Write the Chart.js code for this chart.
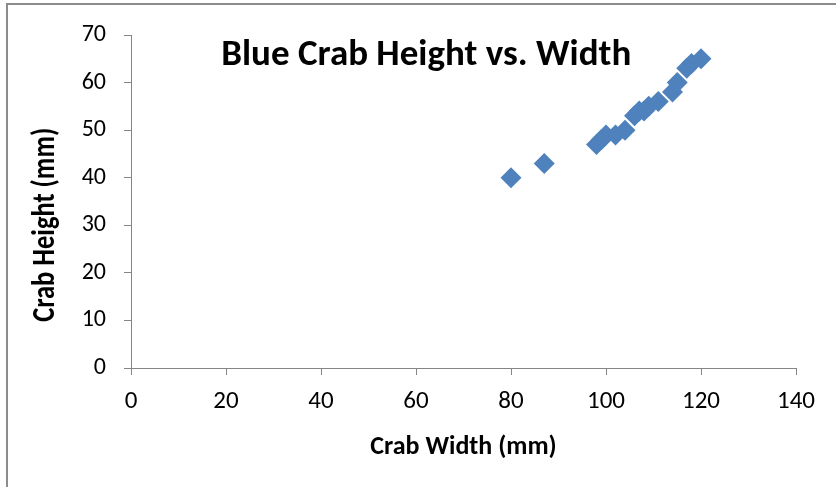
<!DOCTYPE html>
<html>
<head>
<meta charset="utf-8">
<script src="https://cdn.jsdelivr.net/npm/chart.js@4"></script>
<style>
  html, body { margin: 0; padding: 0; background: #fff; overflow: hidden; }
  #wrap { width: 836px; height: 487px; }
</style>
</head>
<body>
<div id="wrap"><canvas id="c" width="836" height="487"></canvas></div>
<script>
// Blue crab measurements (mm)
const crabWidth  = [80, 87, 98, 99, 100, 102, 104, 106, 107, 108, 109, 111, 114, 115, 117, 118, 120];
const crabHeight = [40, 43, 47, 48, 49, 49, 50, 53, 54, 54, 55, 56, 58, 60, 63, 64, 65];
const xTicks = [0, 20, 40, 60, 80, 100, 120, 140];
const yTicks = [0, 10, 20, 30, 40, 50, 60, 70];

const chartTitle = 'Blue Crab Height vs. Width';
const xTitle = 'Crab Width (mm)';
const yTitle = 'Crab Height (mm)';

const points = crabWidth.map((w, i) => ({ x: w, y: crabHeight[i] }));

const fontFamily = "Carlito, 'Liberation Sans Narrow', 'Open Sans', sans-serif";
const axisGray = '#868686';

// Outer frame, in-plot title and the rotated y-axis title
const framePlugin = {
  id: 'frame',
  beforeDraw(chart) {
    const ctx = chart.ctx;
    ctx.save();
    ctx.fillStyle = '#fff';
    ctx.fillRect(0, 0, chart.width, chart.height);
    ctx.strokeStyle = '#8c8c8c';
    ctx.lineWidth = 2;
    ctx.beginPath();
    ctx.moveTo(7, chart.height);
    ctx.lineTo(7, 4);
    ctx.lineTo(chart.width, 4);
    ctx.stroke();
    ctx.restore();
  },
  afterDraw(chart) {
    const ctx = chart.ctx;
    const a = chart.chartArea;
    ctx.save();
    ctx.font = "bold 37px " + fontFamily;
    ctx.fillStyle = '#000';
    ctx.textAlign = 'center';
    ctx.textBaseline = 'alphabetic';
    ctx.fillText(chartTitle, a.left + (a.right - a.left) * 0.444, a.top + 30);
    ctx.restore();

    ctx.save();
    ctx.translate(54, a.top + (a.bottom - a.top) * 0.57);
    ctx.rotate(-Math.PI / 2);
    ctx.scale(1, 1.2);
    ctx.font = "bold 26.5px " + fontFamily;
    ctx.fillStyle = '#000';
    ctx.textAlign = 'center';
    ctx.textBaseline = 'alphabetic';
    ctx.fillText(yTitle, 0, 0);
    ctx.restore();
  }
};

new Chart(document.getElementById('c'), {
  type: 'scatter',
  data: {
    datasets: [{
      data: points,
      pointStyle: 'rectRot',
      pointRadius: 10.5,
      pointHoverRadius: 10.5,
      backgroundColor: '#4F81BD',
      borderColor: '#4F81BD',
      borderWidth: 0
    }]
  },
  options: {
    responsive: false,
    animation: false,
    layout: { padding: { left: 28, top: 35, right: 40, bottom: 0 } },
    plugins: {
      legend: { display: false },
      tooltip: { enabled: false },
      title: { display: false }
    },
    scales: {
      x: {
        type: 'linear',
        min: 0, max: 140,
        afterBuildTicks: s => { s.ticks = xTicks.map(v => ({ value: v })); },
        afterFit: s => { s.height = 119; },
        grid: { drawOnChartArea: false, drawTicks: true, tickLength: 7, color: axisGray, tickColor: axisGray },
        border: { color: axisGray, width: 1 },
        ticks: { color: '#000', padding: 12, font: { family: fontFamily, size: 25 } },
        title: { display: true, text: xTitle, color: '#000', padding: { top: 0, bottom: 24 }, font: { family: fontFamily, size: 26, weight: 'bold' } }
      },
      y: {
        type: 'linear',
        min: 0, max: 70,
        afterBuildTicks: s => { s.ticks = yTicks.map(v => ({ value: v })); },
        afterFit: s => { s.width = 103; },
        grid: { drawOnChartArea: false, drawTicks: true, tickLength: 7, color: axisGray, tickColor: axisGray },
        border: { color: axisGray, width: 1 },
        ticks: { color: '#000', padding: 18, font: { family: fontFamily, size: 24 } },
        title: { display: false }
      }
    }
  },
  plugins: [framePlugin]
});
</script>
</body>
</html>
